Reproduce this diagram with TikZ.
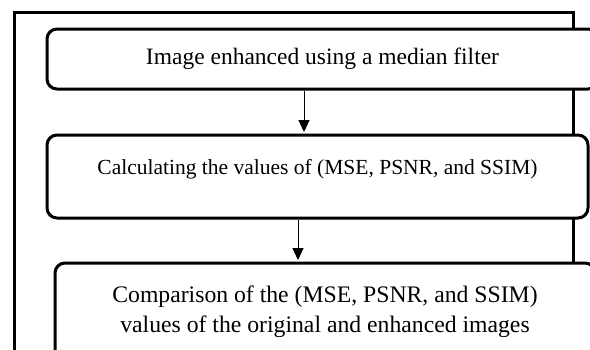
\documentclass[tikz,border=0pt]{standalone}
\usepackage{fontspec}
\setmainfont{Liberation Serif}
\usetikzlibrary{arrows.meta}
\begin{document}
\begin{tikzpicture}[x=1pt,y=-1pt,
  box/.style={draw=black, line width=3pt, fill=white, rounded corners=10pt, inner sep=0pt, align=center},
  arr/.style={line width=1pt, -{Triangle[length=12pt,width=11pt]}, shorten >=1.5pt}]
\clip (0,0) rectangle (590,349);
\fill[white] (0,0) rectangle (590,349);
\coordinate (fl) at (14,360);
\coordinate (ftl) at (14,12.5);
\coordinate (ftr) at (573.5,12.5);
\coordinate (fr) at (573.5,360);
\draw[line width=3pt] (fl) -- (ftl) -- (ftr) -- (fr);
\node[box, minimum width=551pt, minimum height=60pt, font=\fontsize{23.5}{28}\selectfont] (b1) at (322.5,59) {Image enhanced using a median filter};
\node[box, minimum width=541pt, minimum height=83pt, text height=39pt, text depth=44pt, font=\fontsize{21.5}{26}\selectfont] (b2) at (317.5,176.5) {Calculating the values of (MSE, PSNR, and SSIM)};
\node[box, minimum width=540pt, minimum height=97pt, font=\fontsize{23.7}{30}\selectfont] (b3) at (325,311.5) {Comparison of the (MSE, PSNR, and SSIM)\\values of the original and enhanced images};
\coordinate (a1x) at (304,0);
\coordinate (a2x) at (298,0);
\draw[arr] (b1.south -| a1x) -- (b2.north -| a1x);
\draw[arr] (b2.south -| a2x) -- (b3.north -| a2x);
\end{tikzpicture}
\end{document}
